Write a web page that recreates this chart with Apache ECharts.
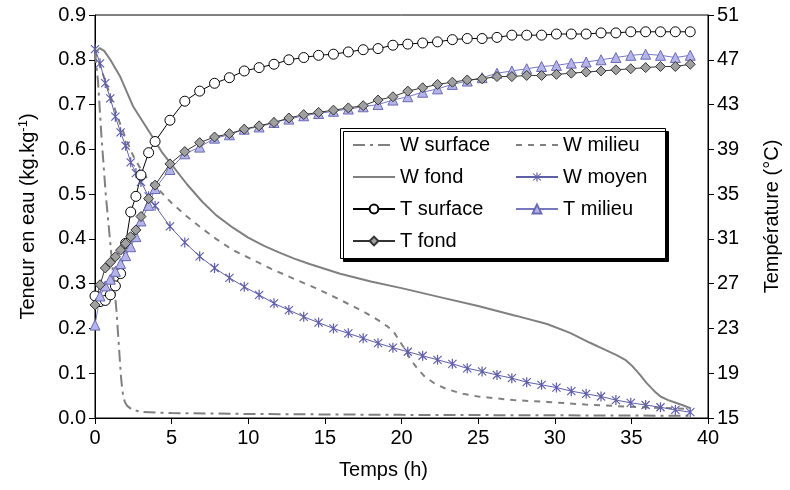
<!DOCTYPE html>
<html><head><meta charset="utf-8">
<script src="https://cdn.jsdelivr.net/npm/echarts@6/dist/echarts.min.js"></script>
<style>html,body{margin:0;padding:0;background:#fff}#c{width:790px;height:490px}</style>
</head><body><div id="c"></div>
<script>
// Time (h) of marker points (T series and W moyen)
var tMarks = [0,0.33,0.67,1,1.33,1.67,2,2.33,2.67,3,3.5,
  3.92,4.89,5.86,6.83,7.8,8.77,9.74,10.71,11.68,12.65,13.62,14.59,15.56,16.53,17.5,18.47,19.44,20.41,21.38,22.35,23.32,24.29,25.26,26.23,27.2,28.17,29.14,30.11,31.08,32.05,33.02,33.99,34.96,35.93,36.9,37.87,38.84];
var tSurface = [25.9,25.4,25.5,26.0,26.8,27.9,30.6,33.4,34.8,36.7,38.7,
  39.7,41.6,43.3,44.2,44.9,45.4,46.0,46.3,46.6,47.0,47.2,47.4,47.5,47.7,47.9,48.0,48.3,48.4,48.5,48.6,48.8,48.9,48.9,49.0,49.2,49.2,49.2,49.3,49.3,49.3,49.4,49.4,49.5,49.5,49.5,49.5,49.5];
var tMilieu = [23.3,25.9,26.8,27.4,28.1,28.8,29.5,30.3,31.2,32.6,34.0,
  35.5,37.2,38.6,39.2,40.0,40.3,40.8,41.0,41.4,41.7,42.0,42.2,42.4,42.6,42.8,43.0,43.4,43.7,44.1,44.4,44.8,45.1,45.4,45.8,46.0,46.2,46.4,46.5,46.7,46.8,47.0,47.2,47.4,47.5,47.4,47.2,47.4];
var tFond = [25.1,26.9,28.4,28.9,29.4,30.0,30.6,31.2,31.8,33.0,34.6,
  35.8,37.7,38.8,39.6,40.1,40.4,40.8,41.1,41.4,41.8,42.1,42.3,42.5,42.7,42.9,43.4,43.7,44.2,44.5,44.8,45.0,45.2,45.3,45.5,45.5,45.6,45.6,45.7,45.8,45.9,46.0,46.1,46.2,46.3,46.4,46.4,46.6];
var wMoyen = [0.824,0.792,0.748,0.714,0.673,0.638,0.608,0.571,0.547,0.527,0.495,
  0.474,0.428,0.392,0.361,0.335,0.313,0.293,0.275,0.256,0.241,0.226,0.213,0.2,0.189,0.178,0.167,0.157,0.148,0.139,0.13,0.121,0.111,0.104,0.096,0.089,0.08,0.074,0.068,0.06,0.054,0.048,0.04,0.034,0.029,0.024,0.018,0.013];
// W surface
var wSurfT = [0,0.2,0.42,0.7,1.0,1.4,1.7,1.78,1.85,1.95,2.1,2.4,3,4,5,10,20,30,38.84];
var wSurfV = [0.82,0.75,0.63,0.5,0.39,0.24,0.09,0.064,0.047,0.036,0.027,0.019,0.014,0.012,0.011,0.009,0.007,0.006,0.005];
// W milieu
var wMilT = [0,0.5,1,1.5,2,2.5,3,3.5,4.3,5,6,7,7.9,9,10.5,11.5,12.7,14.4,16,17.6,18.5,19.1,19.5,19.8,20.2,20.6,21,21.5,22.2,23,24,25,27.3,29.5,32,35,38.84];
var wMilV = [0.82,0.77,0.72,0.67,0.625,0.585,0.555,0.53,0.505,0.48,0.45,0.423,0.40,0.375,0.35,0.333,0.315,0.29,0.264,0.236,0.218,0.204,0.192,0.176,0.155,0.13,0.112,0.093,0.076,0.064,0.054,0.048,0.04,0.036,0.03,0.025,0.02];
// W fond
var wFondT = [0,0.3,0.6,1.0,1.65,2.5,3.6,4.4,5,6,7,7.9,9,10,11,12,13,14,16,18,20,22.5,25,27.5,29.5,31,32.3,33.3,34,34.6,35,35.5,36,36.5,36.9,37.4,37.9,38.4,38.84];
var wFondV = [0.815,0.826,0.82,0.80,0.762,0.695,0.636,0.592,0.566,0.522,0.483,0.453,0.425,0.403,0.385,0.37,0.356,0.344,0.322,0.305,0.29,0.27,0.25,0.228,0.21,0.19,0.168,0.152,0.141,0.13,0.118,0.099,0.078,0.06,0.048,0.04,0.034,0.028,0.022];
var xTicks = {min:0, max:40, step:5};
var yLeft = {min:0, max:0.9, step:0.1};
var yRight = {min:15, max:51, step:4};

function pairs(ts, vs){ return ts.map(function(t,i){ return [t, vs[i]]; }); }
var FONT = 'Liberation Sans, Arial, sans-serif';
var FS = 20;
var gray = '#808080', blue = '#5f5fa8', clear = 'rgba(0,0,0,0)';
var asterisk = 'path://M-0.6,-5L0.6,-5L0.6,5L-0.6,5Z M-4.4,-3.6L-3.6,-4.4L4.4,3.6L3.6,4.4Z M3.6,-4.4L4.4,-3.6L-3.6,4.4L-4.4,3.6Z';

var chart = echarts.init(document.getElementById('c'), null, {renderer:'canvas'});
function axisBase(extra){
  return Object.assign({
    axisLine:{show:true, lineStyle:{color:'#000', width:1}},
    axisTick:{show:true, inside:false, length:6, lineStyle:{color:'#000'}},
    splitLine:{show:false}
  }, extra);
}
var legendText = {fontSize:FS, lineHeight:20, color:'#000', fontFamily:FONT};
chart.setOption({
  animation:false,
  textStyle:{fontFamily:FONT},
  grid:{left:95, right:78, top:15, bottom:72, show:true, borderColor:'#000', borderWidth:1},
  xAxis:axisBase({type:'value', min:xTicks.min, max:xTicks.max, interval:xTicks.step,
    name:'Temps (h)', nameLocation:'middle', nameGap:42,
    nameTextStyle:{color:'#000', fontSize:FS, fontFamily:FONT, padding:[0,36,0,0]},
    axisLabel:{color:'#000', fontSize:FS, fontFamily:FONT, margin:10}}),
  yAxis:[
    axisBase({type:'value', min:yLeft.min, max:yLeft.max, interval:yLeft.step, position:'left',
      name:'Teneur en eau (kg.kg{sup|-1})', nameLocation:'middle', nameGap:55,
      nameTextStyle:{color:'#000', fontSize:FS, fontFamily:FONT, rich:{sup:{fontSize:13, padding:[0,0,10,0], fontFamily:FONT, color:'#000'}}},
      axisLabel:{color:'#000', fontSize:FS, fontFamily:FONT, margin:9, formatter:function(v){return v.toFixed(1);}}}),
    axisBase({type:'value', min:yRight.min, max:yRight.max, interval:yRight.step, position:'right',
      name:'Température (°C)', nameLocation:'middle', nameGap:54,
      nameTextStyle:{color:'#000', fontSize:FS, fontFamily:FONT},
      axisLabel:{color:'#000', fontSize:FS, fontFamily:FONT, margin:9}})
  ],
  graphic:[{type:'rect', left:340, top:128, z:3, shape:{width:325, height:130},
    style:{fill:'#fff', stroke:'#000', lineWidth:1, shadowColor:'#000', shadowOffsetX:3, shadowOffsetY:3, shadowBlur:0}}],
  legend:[
    {orient:'vertical', left:347, top:130, itemWidth:42, itemHeight:11, itemGap:12, z:5,
     textStyle:legendText, data:['W surface','W fond','T surface','T fond']},
    {orient:'vertical', left:510, top:130, itemWidth:42, itemHeight:11, itemGap:12, z:5,
     textStyle:legendText, data:['W milieu','W moyen','T milieu']}
  ],
  series:[
    {name:'W surface', type:'line', yAxisIndex:0, data:pairs(wSurfT,wSurfV), showSymbol:false, symbol:'circle',
     lineStyle:{color:gray, width:2, type:[12,5,3,5]}, itemStyle:{color:clear}},
    {name:'W milieu', type:'line', yAxisIndex:0, data:pairs(wMilT,wMilV), showSymbol:false, symbol:'circle',
     lineStyle:{color:gray, width:2, type:[6,6]}, itemStyle:{color:clear}},
    {name:'W fond', type:'line', yAxisIndex:0, data:pairs(wFondT,wFondV), showSymbol:false, symbol:'circle',
     lineStyle:{color:gray, width:2}, itemStyle:{color:clear}},
    {name:'W moyen', type:'line', yAxisIndex:0, data:pairs(tMarks,wMoyen), symbol:asterisk, symbolSize:[9,10],
     lineStyle:{color:blue, width:1}, itemStyle:{color:blue}},
    {name:'T surface', type:'line', yAxisIndex:1, data:pairs(tMarks,tSurface), symbol:'circle', symbolSize:10,
     lineStyle:{color:'#000', width:1}, itemStyle:{color:'#fff', borderColor:'#000', borderWidth:1}},
    {name:'T milieu', type:'line', yAxisIndex:1, data:pairs(tMarks,tMilieu), symbol:'triangle', symbolSize:10,
     lineStyle:{color:'#7878c0', width:1}, itemStyle:{color:'#b4b4ea', borderColor:'#6a6ab4', borderWidth:1}},
    {name:'T fond', type:'line', yAxisIndex:1, data:pairs(tMarks,tFond), symbol:'diamond', symbolSize:10,
     lineStyle:{color:'#333', width:1}, itemStyle:{color:'#a0a0a0', borderColor:'#333', borderWidth:1}}
  ]
});
</script></body></html>
